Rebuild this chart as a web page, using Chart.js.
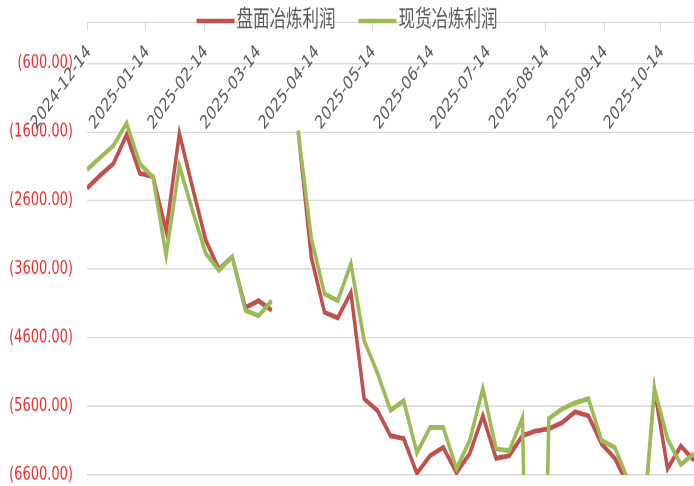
<!DOCTYPE html>
<html>
<head>
<meta charset="utf-8">
<script src="https://cdn.jsdelivr.net/npm/chart.js@4"></script>
<style>
html,body{margin:0;padding:0;background:#fff;overflow:hidden;width:694px;height:486px}
#c{position:absolute;left:0;top:0;display:block}
</style>
</head>
<body>
<canvas id="c" width="694" height="347" style="width:694px;height:486px"></canvas>
<script>
// weekly observation dates
const dates = ['2024-12-14','2024-12-21','2024-12-28','2025-01-04','2025-01-11','2025-01-18','2025-01-25','2025-02-01','2025-02-08','2025-02-15','2025-02-22','2025-03-01','2025-03-08','2025-03-15','2025-03-22','2025-03-29','2025-04-05','2025-04-12','2025-04-19','2025-04-26','2025-05-03','2025-05-10','2025-05-17','2025-05-24','2025-05-31','2025-06-07','2025-06-14','2025-06-21','2025-06-28','2025-07-05','2025-07-12','2025-07-19','2025-07-26','2025-08-02','2025-08-09','2025-08-16','2025-08-23','2025-08-30','2025-09-06','2025-09-13','2025-09-20','2025-09-27','2025-10-04','2025-10-11','2025-10-18','2025-10-25','2025-11-01'];
const seriesNames = ['盘面冶炼利润','现货冶炼利润'];
const futuresProfit = [-2420,-2230,-2060,-1640,-2200,-2250,-3040,-1620,-2410,-3180,-3600,-3420,-4160,-4060,-4200,null,-1580,-3430,-4230,-4310,-3940,-5490,-5660,-6030,-6070,-6580,-6320,-6200,-6570,-6290,-5740,-6360,-6320,-6030,-5960,-5930,-5840,-5680,-5740,-6150,-6360,-6750,-7700,-5350,-6510,-6180,-6390];
const spotProfit = [-2150,-1970,-1800,-1470,-2060,-2260,-3400,-2090,-2750,-3370,-3620,-3420,-4200,-4280,-4060,null,-1580,-3150,-3960,-4060,-3520,-4640,-5110,-5660,-5520,-6280,-5910,-5910,-6510,-6100,-5340,-6220,-6250,-5770,-15000,-5780,-5640,-5550,-5490,-6100,-6200,-6680,-7700,-5340,-6080,-6450,-6290];
const monthTicks = ['2024-12-14','2025-01-14','2025-02-14','2025-03-14','2025-04-14','2025-05-14','2025-06-14','2025-07-14','2025-08-14','2025-09-14','2025-10-14'];
const yTickValues = [0,-600,-1600,-2600,-3600,-4600,-5600,-6600];
const seriesColors = ['#c0504d','#9bbb59'];

const day0 = Date.UTC(2024,11,14);
function dayNum(s){const p=s.split('-').map(Number);return Math.round((Date.UTC(p[0],p[1]-1,p[2])-day0)/86400000);}
function pts(arr){return arr.map((v,i)=>({x:dayNum(dates[i]),y:v}));}

const topAxis = {
  id:'topAxis',
  afterDraw(chart){
    const ctx=chart.ctx, xs=chart.scales.x, top=chart.chartArea.top;
    ctx.save();
    ctx.strokeStyle='#d9d9d9';ctx.lineWidth=1;
    monthTicks.forEach(t=>{
      const px=Math.round(xs.getPixelForValue(dayNum(t)))+0.5;
      ctx.beginPath();ctx.moveTo(px,top);ctx.lineTo(px,top+6);ctx.stroke();
    });
    ctx.fillStyle='#595959';ctx.font='13.5px "DejaVu Sans"';
    ctx.textAlign='right';ctx.textBaseline='middle';
    monthTicks.forEach(t=>{
      const px=xs.getPixelForValue(dayNum(t));
      ctx.save();ctx.translate(px+2,top+19);ctx.rotate(-Math.PI/4);ctx.fillText(t,0,0);ctx.restore();
    });
    // legend
    ctx.font='16.5px "Noto Sans CJK SC"';
    const sample=38,gap=2,itemGap=23;
    const ds=chart.data.datasets;
    let total=0;
    ds.forEach((d,i)=>{total+=sample+gap+ctx.measureText(d.label).width+(i<ds.length-1?itemGap:0);});
    let x=chart.width/2-total/2;
    const ly=12.5;
    ds.forEach((d,i)=>{
      ctx.strokeStyle=d.borderColor;ctx.lineWidth=3.2;ctx.lineCap='butt';
      ctx.beginPath();ctx.moveTo(x,ly+2.5);ctx.lineTo(x+sample,ly+2.5);ctx.stroke();
      x+=sample+gap;
      ctx.fillStyle='#595959';ctx.textAlign='left';ctx.textBaseline='middle';
      ctx.fillText(d.label,x,ly);
      x+=ctx.measureText(d.label).width+itemGap;
    });
    ctx.restore();
  }
};

new Chart(document.getElementById('c'),{
  type:'line',
  data:{datasets:[
    {label:seriesNames[0],data:pts(futuresProfit),borderColor:seriesColors[0],backgroundColor:seriesColors[0],borderWidth:3.5,pointRadius:0,tension:0,spanGaps:false,order:1},
    {label:seriesNames[1],data:pts(spotProfit),borderColor:seriesColors[1],backgroundColor:seriesColors[1],borderWidth:3.5,pointRadius:0,tension:0,spanGaps:false,order:0}
  ]},
  options:{
    responsive:false,animation:false,devicePixelRatio:2,
    layout:{padding:{top:16,bottom:8,left:0,right:0}},
    plugins:{legend:{display:false},tooltip:{enabled:false}},
    scales:{
      x:{type:'linear',display:false,min:dayNum(dates[0]),max:dayNum(dates[dates.length-1]),
        afterFit(s){s.height=0;s.paddingTop=0;s.paddingBottom=0;}},
      y:{min:-6600,max:0,
        afterBuildTicks(s){s.ticks=yTickValues.map(v=>({value:v}));},
        afterFit(s){s.width=87;s.paddingTop=0;s.paddingBottom=0;},
        border:{display:false},
        grid:{color:'#d9d9d9',lineWidth:1,drawTicks:false},
        ticks:{padding:14,color:'#e8302e',font:{family:'DejaVu Sans',size:13},
          callback:v=>v===0?'':'('+Math.abs(v).toFixed(2)+')'}
      }
    }
  },
  plugins:[topAxis]
});
</script>
</body>
</html>
